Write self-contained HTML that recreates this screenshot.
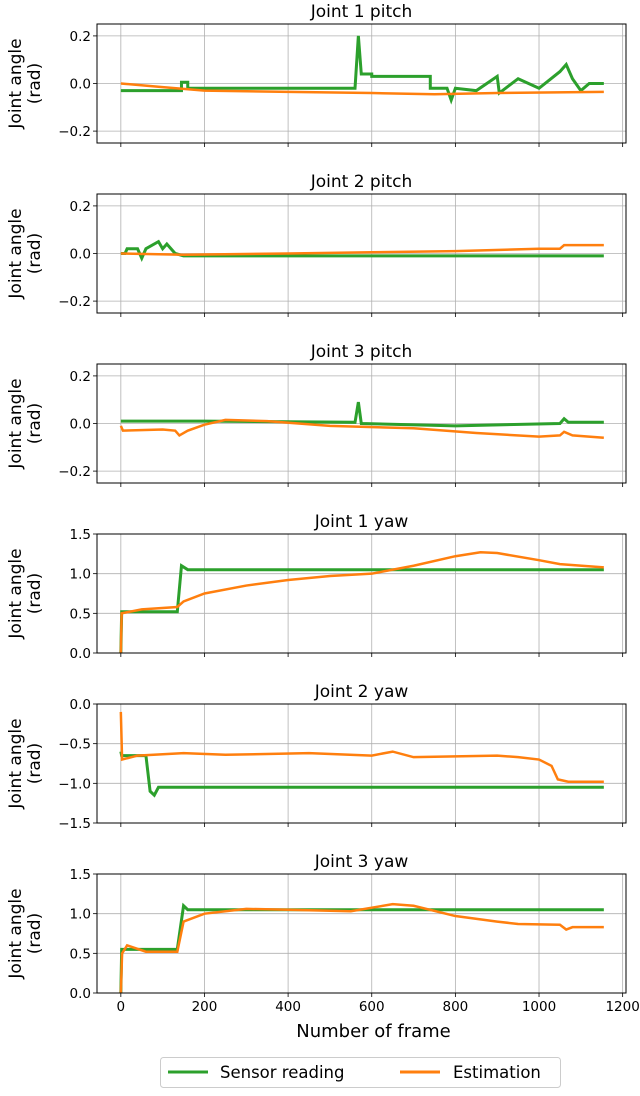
<!DOCTYPE html>
<html><head><meta charset="utf-8"><style>
body{margin:0;background:#fff;}
svg text{font-family:"DejaVu Sans","Liberation Sans",sans-serif;fill:#000;}
</style></head><body>
<svg id="chart" width="640" height="1091" xmlns="http://www.w3.org/2000/svg"></svg>
<script>
const titles=["Joint 1 pitch","Joint 2 pitch","Joint 3 pitch","Joint 1 yaw","Joint 2 yaw","Joint 3 yaw"];
const yRanges=[[-0.25,0.25],[-0.25,0.25],[-0.25,0.25],[0,1.5],[-1.5,0],[0,1.5]];
const yTicks=[[-0.2,0,0.2],[-0.2,0,0.2],[-0.2,0,0.2],[0,0.5,1,1.5],[-1.5,-1,-0.5,0],[0,0.5,1,1.5]];
const xTicks=[0,200,400,600,800,1000,1200];
const sensorData=[
[[0,-0.03],[145,-0.03],[145,0.005],[160,0.005],[160,-0.02],[560,-0.02],[568,0.2],[575,0.04],[600,0.04],[600,0.03],[740,0.03],[740,-0.02],[780,-0.02],[790,-0.07],[800,-0.02],[850,-0.03],[900,0.03],[905,-0.04],[950,0.02],[1000,-0.02],[1050,0.05],[1065,0.08],[1080,0.02],[1100,-0.03],[1120,0.0],[1155,0.0]],
[[0,0],[10,0],[15,0.02],[40,0.02],[50,-0.02],[60,0.02],[90,0.05],[100,0.02],[110,0.04],[130,0],[150,-0.01],[1155,-0.01]],
[[0,0.01],[200,0.01],[560,0.005],[568,0.09],[575,0.0],[800,-0.01],[1050,0.0],[1060,0.02],[1070,0.005],[1155,0.005]],
[[0,0.0],[2,0.52],[135,0.52],[145,1.1],[160,1.05],[1155,1.05]],
[[0,-0.6],[2,-0.65],[60,-0.65],[70,-1.1],[80,-1.15],[90,-1.05],[1155,-1.05]],
[[0,0],[2,0.55],[135,0.55],[150,1.1],[160,1.05],[1155,1.05]]
];
const estData=[
[[0,0],[100,-0.015],[200,-0.03],[400,-0.035],[600,-0.04],[750,-0.045],[900,-0.04],[1155,-0.035]],
[[0,0],[150,-0.005],[400,0.0],[600,0.005],[800,0.01],[1000,0.02],[1050,0.02],[1060,0.035],[1155,0.035]],
[[0,-0.01],[5,-0.03],[100,-0.025],[130,-0.03],[140,-0.05],[160,-0.03],[200,-0.005],[250,0.015],[350,0.01],[500,-0.01],[700,-0.02],[850,-0.04],[1000,-0.055],[1050,-0.05],[1060,-0.035],[1080,-0.05],[1155,-0.06]],
[[0,0.0],[2,0.5],[50,0.55],[135,0.58],[150,0.65],[200,0.75],[300,0.85],[400,0.92],[500,0.97],[600,1.0],[700,1.1],[800,1.22],[860,1.27],[900,1.26],[1000,1.17],[1050,1.12],[1155,1.08]],
[[0,-0.1],[3,-0.7],[40,-0.65],[150,-0.62],[250,-0.64],[450,-0.62],[600,-0.65],[650,-0.6],[700,-0.67],[900,-0.65],[950,-0.67],[1000,-0.7],[1030,-0.78],[1045,-0.95],[1070,-0.98],[1155,-0.98]],
[[0,0],[3,0.5],[15,0.6],[60,0.52],[135,0.52],[150,0.9],[200,1.0],[300,1.06],[400,1.05],[550,1.03],[650,1.12],[700,1.1],[800,0.97],[900,0.9],[950,0.87],[1050,0.86],[1065,0.8],[1080,0.83],[1155,0.83]]
];
const NS="http://www.w3.org/2000/svg";
const svg=document.getElementById("chart");
function mk(tag,attrs,parent,text){const e=document.createElementNS(NS,tag);for(const k in attrs)e.setAttribute(k,attrs[k]);if(text!==undefined)e.textContent=text;(parent||svg).appendChild(e);return e;}
const L=97,R=626,H=119;
const xs=f=>L+(f+57)*(R-L)/(1265);
function fmt(v){let s=(Math.abs(v)<1e-9?0:v).toFixed(1);return s.replace("-","\u2212");}
for(let p=0;p<6;p++){
  const T=24+170*p,B=T+H;
  const [y0,y1]=yRanges[p];
  const ys=v=>B-(v-y0)/(y1-y0)*H;
  const g=mk("g",{},svg);
  
  
  const t=mk("text",{x:(L+R)/2,y:T-7,"text-anchor":"middle","font-size":"17"},g,titles[p]);
  
  
  for(const xv of xTicks){const x=xs(xv);
    mk("line",{x1:x,x2:x,y1:T,y2:B,stroke:"#b0b0b0","stroke-width":"0.8"},g);
    mk("line",{x1:x,x2:x,y1:B,y2:B+4,stroke:"#000","stroke-width":"0.8"},g);
    if(p===5){const tl=mk("text",{x:x,y:B+18,"text-anchor":"middle","font-size":"13.5"},g,String(xv));
      
      }
  }
  for(const yv of yTicks[p]){const y=ys(yv);
    mk("line",{x1:L,x2:R,y1:y,y2:y,stroke:"#b0b0b0","stroke-width":"0.8"},g);
    mk("line",{x1:L-4,x2:L,y1:y,y2:y,stroke:"#000","stroke-width":"0.8"},g);
    const yl=mk("text",{x:L-6,y:y+5,"text-anchor":"end","font-size":"13.5"},g,fmt(yv));
    
    
  }
  const cy=(T+B)/2;
  const yt=mk("text",{transform:`translate(21,${cy}) rotate(-90)`,"text-anchor":"middle","font-size":"17"},g);
  
  
  mk("tspan",{x:0,y:0},yt,"Joint angle");
  mk("tspan",{x:0,y:19},yt,"(rad)");
  const clip=mk("clipPath",{id:"c"+p},g);mk("rect",{x:L,y:T,width:R-L,height:H},clip);
  const sp=mk("polyline",{points:sensorData[p].map(d=>xs(d[0])+","+ys(d[1])).join(" "),fill:"none",stroke:"#2ca02c","stroke-width":"3","clip-path":`url(#c${p})`},g);
  
  
  const ep=mk("polyline",{points:estData[p].map(d=>xs(d[0])+","+ys(d[1])).join(" "),fill:"none",stroke:"#ff7f0e","stroke-width":"2.5","clip-path":`url(#c${p})`},g);
  
  
  mk("rect",{x:L,y:T,width:R-L,height:H,fill:"none",stroke:"#000","stroke-width":"1"},g);
}
const xt=mk("text",{x:(L+R)/2+12,y:1037,"text-anchor":"middle","font-size":"18"},svg,"Number of frame");


const lg=mk("g",{},svg);


mk("rect",{x:160.5,y:1057.5,width:400,height:30,rx:3,fill:"#fff",stroke:"#ccc"},lg);
mk("line",{x1:168,x2:208,y1:1072,y2:1072,stroke:"#2ca02c","stroke-width":"3"},lg);
const l1=mk("text",{x:220,y:1078,"font-size":"16.5"},lg,"Sensor reading");


mk("line",{x1:400,x2:440,y1:1072,y2:1072,stroke:"#ff7f0e","stroke-width":"3"},lg);
const l2=mk("text",{x:453,y:1078,"font-size":"16.5"},lg,"Estimation");


</script>
</body></html>
